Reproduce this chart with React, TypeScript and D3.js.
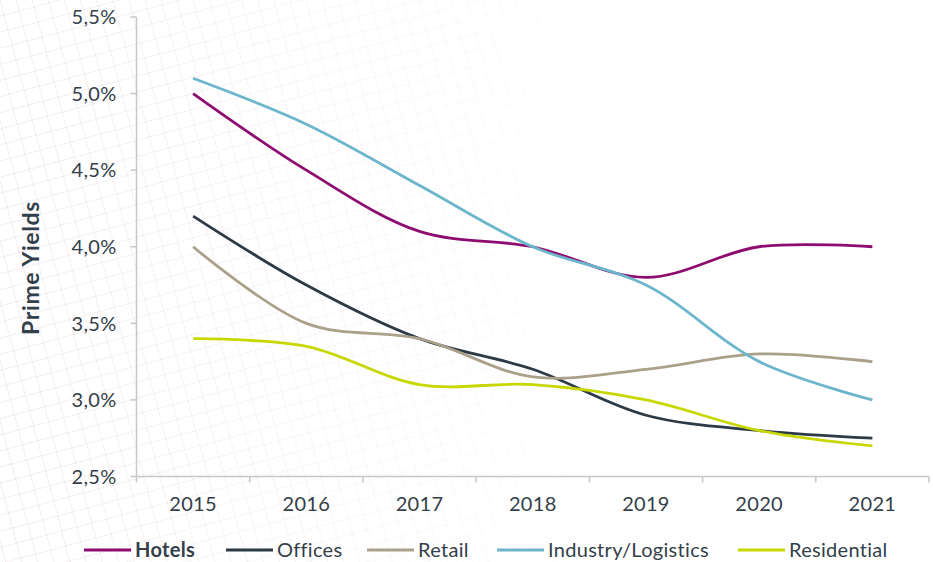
import { useEffect, useRef } from "react";
import * as d3 from "d3";

const years = ["2015", "2016", "2017", "2018", "2019", "2020", "2021"];
const hotels = [5.0, 4.5, 4.1, 4.0, 3.8, 4.0, 4.0];
const offices = [4.2, 3.75, 3.4, 3.2, 2.9, 2.8, 2.75];
const retail = [4.0, 3.5, 3.4, 3.15, 3.2, 3.3, 3.25];
const industry = [5.1, 4.8, 4.4, 4.0, 3.75, 3.25, 3.0];
const residential = [3.4, 3.35, 3.1, 3.1, 3.0, 2.8, 2.7];
const yTicks = [2.5, 3.0, 3.5, 4.0, 4.5, 5.0, 5.5];

const series = [
  { name: "Hotels", values: hotels, color: "#8e0c6f", bold: true },
  { name: "Offices", values: offices, color: "#2c3a46", bold: false },
  { name: "Retail", values: retail, color: "#aba18b", bold: false },
  { name: "Industry/Logistics", values: industry, color: "#6cb6cc", bold: false },
  { name: "Residential", values: residential, color: "#c6d800", bold: false },
];

const FONT = "Lato, 'Open Sans', sans-serif";
const TEXT = "#333f4a";
const AXIS = "#c8c8c8";

export default function App() {
  const svgRef = useRef<SVGSVGElement>(null);

  useEffect(() => {
    if (!svgRef.current) return;
    const svg = d3.select(svgRef.current);
    svg.selectAll("*").remove();

    const width = 933;
    const height = 562;
    const left = 136.5;
    const right = 929;
    const top = 17;
    const bottom = 476.5;

    // faint background pattern
    const defs = svg.append("defs");
    const pat = defs
      .append("pattern")
      .attr("id", "bgpat")
      .attr("width", 22)
      .attr("height", 22)
      .attr("patternUnits", "userSpaceOnUse")
      .attr("patternTransform", "rotate(30)");
    pat
      .append("path")
      .attr("d", "M0,0 L22,22 M22,0 L0,22")
      .attr("stroke", "#efe6eb")
      .attr("stroke-width", 1);
    const grad = defs
      .append("linearGradient")
      .attr("id", "fade")
      .attr("x1", 0)
      .attr("x2", 1)
      .attr("y1", 0)
      .attr("y2", 0);
    grad.append("stop").attr("offset", "0%").attr("stop-color", "#fff").attr("stop-opacity", 1);
    grad.append("stop").attr("offset", "45%").attr("stop-color", "#fff").attr("stop-opacity", 0.35);
    grad.append("stop").attr("offset", "70%").attr("stop-color", "#fff").attr("stop-opacity", 0);
    const mask = defs.append("mask").attr("id", "fademask");
    mask
      .append("rect")
      .attr("width", width)
      .attr("height", height)
      .attr("fill", "url(#fade)");

    svg.append("rect").attr("width", width).attr("height", height).attr("fill", "#ffffff");
    svg
      .append("rect")
      .attr("width", width)
      .attr("height", height)
      .attr("fill", "url(#bgpat)")
      .attr("mask", "url(#fademask)");

    const x = d3.scaleBand<string>().domain(years).range([left, right]).padding(0);
    const xc = (d: string) => (x(d) as number) + x.bandwidth() / 2;
    const y = d3.scaleLinear().domain([2.5, 5.5]).range([bottom, top]);

    const g = svg.append("g");

    // Y axis
    g.append("line")
      .attr("x1", left)
      .attr("x2", left)
      .attr("y1", top)
      .attr("y2", bottom)
      .attr("stroke", AXIS)
      .attr("stroke-width", 1.5);
    g.selectAll("line.ytick")
      .data(yTicks)
      .join("line")
      .attr("class", "ytick")
      .attr("x1", left - 6)
      .attr("x2", left)
      .attr("y1", (d) => y(d))
      .attr("y2", (d) => y(d))
      .attr("stroke", AXIS)
      .attr("stroke-width", 1.5);
    g.selectAll("text.ylab")
      .data(yTicks)
      .join("text")
      .attr("class", "ylab")
      .attr("x", left - 20)
      .attr("y", (d) => y(d))
      .attr("dy", "0.36em")
      .attr("text-anchor", "end")
      .attr("fill", TEXT)
      .attr("font-size", "20px")
      .attr("letter-spacing", "0.3px")
      .attr("font-family", FONT)
      .text((d) => d3.format(".1f")(d).replace(".", ",") + "%");

    // X axis
    g.append("line")
      .attr("x1", left)
      .attr("x2", right)
      .attr("y1", bottom)
      .attr("y2", bottom)
      .attr("stroke", AXIS)
      .attr("stroke-width", 1.5);
    const edges = years.map((d) => x(d) as number).concat([right]);
    g.selectAll("line.xtick")
      .data(edges)
      .join("line")
      .attr("class", "xtick")
      .attr("x1", (d) => d)
      .attr("x2", (d) => d)
      .attr("y1", bottom)
      .attr("y2", bottom + 6)
      .attr("stroke", AXIS)
      .attr("stroke-width", 1.5);
    g.selectAll("text.xlab")
      .data(years)
      .join("text")
      .attr("class", "xlab")
      .attr("x", (d) => xc(d))
      .attr("y", 511)
      .attr("text-anchor", "middle")
      .attr("fill", TEXT)
      .attr("font-size", "20px")
      .attr("letter-spacing", "0.3px")
      .attr("font-family", FONT)
      .text((d) => d);

    // Axis title
    svg
      .append("text")
      .attr("transform", "translate(39,268) rotate(-90)")
      .attr("text-anchor", "middle")
      .attr("fill", TEXT)
      .attr("font-size", "23px")
      .attr("letter-spacing", "0.6px")
      .attr("font-weight", "bold")
      .attr("font-family", FONT)
      .text("Prime Yields");

    // Lines
    const line = d3
      .line<number>()
      .x((_, i) => xc(years[i]))
      .y((d) => y(d))
      .curve(d3.curveCatmullRom.alpha(0.5));

    g.selectAll("path.series")
      .data(series)
      .join("path")
      .attr("class", "series")
      .attr("d", (s) => line(s.values))
      .attr("fill", "none")
      .attr("stroke", (s) => s.color)
      .attr("stroke-width", 2.8);

    // Legend
    const legendX = [84, 226, 367, 497, 738];
    const lg = svg
      .selectAll("g.legend")
      .data(series)
      .join("g")
      .attr("class", "legend")
      .attr("transform", (_, i) => `translate(${legendX[i]},550)`);
    lg.append("line")
      .attr("x1", 0)
      .attr("x2", 47)
      .attr("y1", 0)
      .attr("y2", 0)
      .attr("stroke", (s) => s.color)
      .attr("stroke-width", 2.8);
    lg.append("text")
      .attr("x", 51)
      .attr("y", 0)
      .attr("dy", "0.36em")
      .attr("fill", TEXT)
      .attr("font-size", "20px")
      .attr("letter-spacing", "0.3px")
      .attr("font-weight", (s) => (s.bold ? "bold" : "normal"))
      .attr("font-family", FONT)
      .text((s) => s.name);
  }, []);

  return (
    <svg
      ref={svgRef}
      width={933}
      height={562}
      style={{ position: "absolute", left: 0, top: 0, display: "block" }}
    />
  );
}
